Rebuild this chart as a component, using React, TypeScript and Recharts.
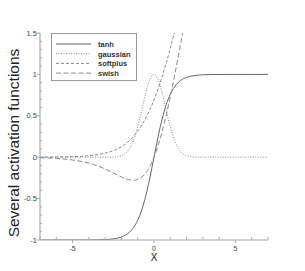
import { Legend, Line, LineChart, XAxis, YAxis } from 'recharts';

const xs = [-7, -6, -5, -4, -3.5, -3, -2.5, -2, -1.75, -1.5, -1.25, -1, -0.75, -0.5, -0.25, 0, 0.25, 0.5, 0.75, 1, 1.25, 1.5, 1.75, 2, 2.5, 3, 3.5, 4, 5, 6, 7];
const tanh = [-1, -1, -0.9999, -0.9993, -0.9982, -0.9951, -0.9866, -0.964, -0.9414, -0.9051, -0.8483, -0.7616, -0.6351, -0.4621, -0.2449, 0, 0.2449, 0.4621, 0.6351, 0.7616, 0.8483, 0.9051, 0.9414, 0.964, 0.9866, 0.9951, 0.9982, 0.9993, 0.9999, 1, 1];
const gaussian = [0, 0, 0, 0, 0, 0.0001, 0.0019, 0.0183, 0.0468, 0.1054, 0.2096, 0.3679, 0.5698, 0.7788, 0.9394, 1, 0.9394, 0.7788, 0.5698, 0.3679, 0.2096, 0.1054, 0.0468, 0.0183, 0.0019, 0.0001, 0, 0, 0, 0, 0];
const softplus = [0.0009, 0.0025, 0.0067, 0.0181, 0.0298, 0.0486, 0.0789, 0.1269, 0.1602, 0.2014, 0.2519, 0.3133, 0.3868, 0.4741, 0.5759, 0.6931, 0.8259, 0.9741, 1.1368, 1.3133, 1.5019, 1.7014, 1.9102, 2.1269, 2.5789, null, null, null, null, null, null];
const swish = [-0.0064, -0.0148, -0.0335, -0.0719, -0.1026, -0.1423, -0.1896, -0.2384, -0.259, -0.2736, -0.2784, -0.2689, -0.2406, -0.1888, -0.1094, 0, 0.1406, 0.3112, 0.5094, 0.7311, 0.9716, 1.2264, 1.491, 1.7616, 2.3103, null, null, null, null, null, null];

const xTicks = [-7, -6, -5, -4, -3, -2, -1, 0, 1, 2, 3, 4, 5, 6, 7];
const xLabels = [-5, 0, 5];
const yTicks = Array.from({ length: 26 }, (_, i) => Math.round((-1 + i * 0.1) * 10) / 10);
const yLabels = [-1, -0.5, 0, 0.5, 1, 1.5];

const series = [
  { key: 'tanh', color: '#666', dash: undefined },
  { key: 'gaussian', color: '#888', dash: '1 1.5' },
  { key: 'softplus', color: '#888', dash: '3 2' },
  { key: 'swish', color: '#888', dash: '5 2.5' },
];

const data = xs.map((x, i) => ({ x, tanh: tanh[i], gaussian: gaussian[i], softplus: softplus[i], swish: swish[i] }));

const font = '"Liberation Sans", Arial, sans-serif';
const axisColor = '#aaa';

function XTick(props: any) {
  const { x, y, payload } = props;
  const major = xLabels.includes(payload.value);
  return (
    <g>
      {major ? (
        <>
          <line x1={x} x2={x} y1={y} y2={y + 3} stroke={axisColor} />
          <text x={x} y={y + 11} textAnchor="middle" fontSize={7} fill="#444" fontFamily={font}>
            {payload.value}
          </text>
        </>
      ) : (
        <line x1={x} x2={x} y1={y} y2={y - 3} stroke={axisColor} />
      )}
    </g>
  );
}

function YTick(props: any) {
  const { x, y, payload } = props;
  const major = yLabels.some((v) => Math.abs(v - payload.value) < 1e-6);
  return (
    <g>
      {major ? (
        <>
          <line x1={x - 3} x2={x} y1={y} y2={y} stroke={axisColor} />
          <text x={x - 3} y={y + 2.5} textAnchor="end" fontSize={7.5} fill="#444" fontFamily={font}>
            {payload.value}
          </text>
        </>
      ) : (
        <line x1={x} x2={x + 2} y1={y} y2={y} stroke={axisColor} />
      )}
    </g>
  );
}

function LegendBox() {
  return (
    <div style={{ width: 86, height: 48, border: '1px solid #999', background: '#fff', boxSizing: 'border-box' }}>
      <svg width={84} height={46} style={{ display: 'block' }}>
        {series.map((s, i) => (
          <g key={s.key}>
            <line x1={4} x2={39} y1={10 + i * 9.7} y2={10 + i * 9.7} stroke={s.color} strokeDasharray={s.dash} />
            <text x={46} y={13 + i * 9.7} fontSize={7.5} fontWeight="bold" fill="#333" fontFamily={font}>
              {s.key}
            </text>
          </g>
        ))}
      </svg>
    </div>
  );
}

export default function App() {
  return (
    <div style={{ position: 'absolute', left: 0, top: 0, width: 305, height: 271, background: '#fff' }}>
      <LineChart width={305} height={271} data={data} margin={{ top: 33, right: 37, bottom: 30, left: 39 }}>
        <XAxis
          dataKey="x"
          type="number"
          domain={[-7, 7]}
          ticks={xTicks}
          interval={0}
          height={1}
          tickSize={0}
          tickMargin={0}
          tickLine={false}
          tick={XTick}
          stroke={axisColor}
          strokeWidth={1.2}
        />
        <YAxis
          type="number"
          domain={[-1, 1.5]}
          allowDataOverflow
          ticks={yTicks}
          interval={0}
          width={1}
          tickSize={0}
          tickMargin={0}
          tickLine={false}
          tick={YTick}
          stroke={axisColor}
          strokeWidth={1.2}
        />
        <Legend
          layout="vertical"
          align="center"
          verticalAlign="middle"
          content={<LegendBox />}
          wrapperStyle={{ left: 51, top: 33, width: 86, height: 48 }}
        />
        {series.map((s) => (
          <Line
            key={s.key}
            type="monotone"
            dataKey={s.key}
            stroke={s.color}
            strokeWidth={1}
            strokeDasharray={s.dash}
            dot={false}
            connectNulls={false}
            isAnimationActive={false}
          />
        ))}
        <text x={154} y={260.5} textAnchor="middle" fontSize={10} fill="#222" fontFamily={font}>
          X
        </text>
        <text
          x={0}
          y={0}
          transform="translate(19,143) rotate(-90)"
          textAnchor="middle"
          fontSize={15.5}
          fill="#222"
          fontFamily={font}
        >
          Several activation functions
        </text>
      </LineChart>
    </div>
  );
}
